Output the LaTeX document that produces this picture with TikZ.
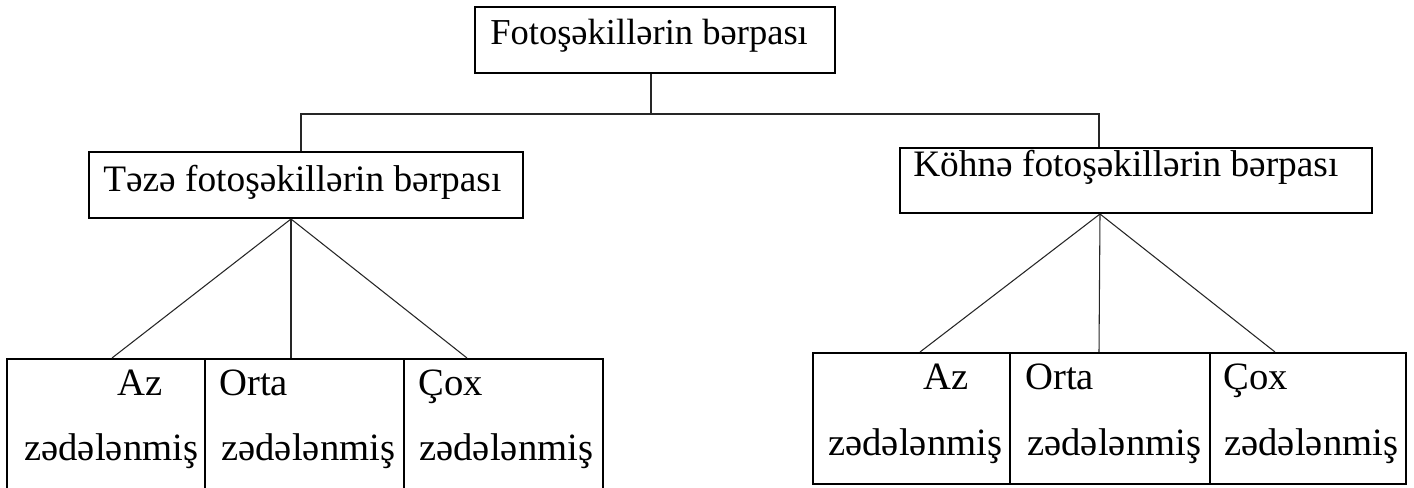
\documentclass[tikz,border=0pt]{standalone}
\usepackage{fontspec}
\setmainfont{Liberation Serif}
\begin{document}
\begin{tikzpicture}[x=0.75pt,y=-0.75pt,
  box/.style={draw=black,line width=1.5pt,rectangle,inner sep=0pt},
  conn/.style={draw=black!85,line width=0.8pt},
  lbl/.style={anchor=base west,inner sep=0pt,font=\fontsize{28}{32}\selectfont},
  toplbl/.style={lbl,font=\fontsize{27.4}{32}\selectfont},
  cell/.style={lbl,font=\fontsize{29}{34}\selectfont}]
\useasboundingbox (0,0) rectangle (1414,488);
% boxes
\node[box,minimum width=270pt,minimum height=49.5pt] (top) at (655,40) {};
\node[box,minimum width=325.5pt,minimum height=49.5pt] (left) at (306,185) {};
\node[box,minimum width=354pt,minimum height=48.75pt] (right) at (1136,180.5) {};
% left cells
\node[box,minimum width=148.5pt,minimum height=98.25pt] (l1) at (106,424.5) {};
\node[box,minimum width=149.25pt,minimum height=98.25pt] (l2) at (304.5,424.5) {};
\node[box,minimum width=149.25pt,minimum height=98.25pt] (l3) at (503.5,424.5) {};
% right cells
\node[box,minimum width=147.75pt,minimum height=98.25pt] (r1) at (911.5,418.5) {};
\node[box,minimum width=150pt,minimum height=98.25pt] (r2) at (1110,418.5) {};
\node[box,minimum width=147pt,minimum height=98.25pt] (r3) at (1308,418.5) {};
% texts
\node[toplbl] (ttop) at (490,45) {Fotoşəkillərin bərpası};
\node[lbl] (tleft) at (103,192) {Təzə fotoşəkillərin bərpası};
\node[lbl] (tright) at (913,177) {Köhnə fotoşəkillərin bərpası};
\node[cell] (l1a) at (117,395) {Az};
\node[cell] (l1b) at (24,460) {zədələnmiş};
\node[cell] (l2a) at (219,395) {Orta};
\node[cell] (l2b) at (221,460) {zədələnmiş};
\node[cell] (l3a) at (418,395) {Çox};
\node[cell] (l3b) at (419,460) {zədələnmiş};
\node[cell] (r1a) at (923,389) {Az};
\node[cell] (r1b) at (828,455) {zədələnmiş};
\node[cell] (r2a) at (1025,389) {Orta};
\node[cell] (r2b) at (1027,455) {zədələnmiş};
\node[cell] (r3a) at (1223,389) {Çox};
\node[cell] (r3b) at (1224,455) {zədələnmiş};
% connectors
\coordinate (j) at (651,114);
\coordinate (lj) at (301,114);
\coordinate (rj) at (1099,114);
\draw[conn] (j |- top.south) -- (j);
\draw[conn] (lj |- left.north) -- (lj) -- (rj) -- (rj |- right.north);
\coordinate (la) at (291,218);
\coordinate (ra) at (1100,213);
\draw[conn] (la |- left.south) -- (l1.north -| 112,0);
\draw[conn] (la |- left.south) -- (l2.north -| 291,0);
\draw[conn] (la |- left.south) -- (l3.north -| 467,0);
\draw[conn] (ra |- right.south) -- (r1.north -| 920,0);
\draw[conn] (ra |- right.south) -- (r2.north -| 1099,0);
\draw[conn] (ra |- right.south) -- (r3.north -| 1275,0);
\end{tikzpicture}
\end{document}
